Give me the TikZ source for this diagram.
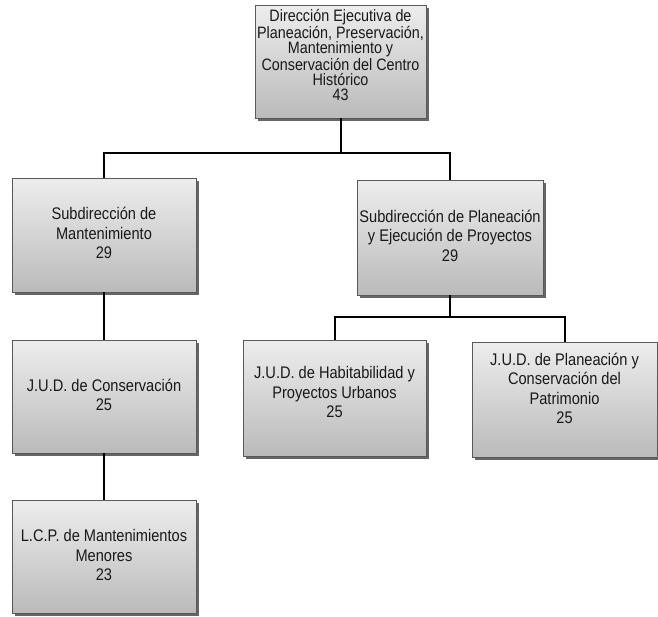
\documentclass[tikz,border=0pt]{standalone}
\usepackage{fontspec}
\setmainfont[FakeStretch=0.87]{Liberation Sans}
\usetikzlibrary{shadows}
\tikzset{
  box/.style={draw=black!65, line width=0.6pt, top color=black!7, bottom color=black!27,
    drop shadow={shadow xshift=2.5pt, shadow yshift=-2.5pt, fill=black!60, opacity=1},
    inner sep=0pt},
  txt/.style={align=center, inner sep=0pt, font=\fontsize{16.8}{19.5}\selectfont, text=black!90},
  toptxt/.style={align=center, inner sep=0pt, font=\fontsize{16.5}{15}\selectfont, text=black!90},
  conn/.style={line width=2pt, black}
}
\begin{document}
\begin{tikzpicture}[x=1pt,y=-1pt]
\useasboundingbox (0,0) rectangle (658,616);
% boxes
\node[box, minimum width=171pt, minimum height=113pt] (top) at (340.5,61.5) {};
\node[box, minimum width=184pt, minimum height=114pt] (subL) at (104,235) {};
\node[box, minimum width=186pt, minimum height=115pt] (subR) at (450,237.5) {};
\node[box, minimum width=184pt, minimum height=113pt] (judC) at (104,396.5) {};
\node[box, minimum width=184pt, minimum height=113pt] (lcp) at (104,556.5) {};
\node[box, minimum width=183pt, minimum height=116pt] (judH) at (334.5,398) {};
\node[box, minimum width=185pt, minimum height=115pt] (judP) at (564.5,399.5) {};
% texts
\node[toptxt] (tTop) at (340.5,55) {Dirección Ejecutiva de\\Planeación, Preservación,\\Mantenimiento y\\Conservación del Centro\\Histórico\\43};
\node[txt] (tSubL) at (104,233) {Subdirección de\\Mantenimiento\\29};
\node[txt] (tSubR) at (450,235.5) {Subdirección de Planeación\\y Ejecución de Proyectos\\29};
\node[txt] (tJudC) at (104,395) {J.U.D. de Conservación\\25};
\node[txt] (tLcp) at (104,555) {L.C.P. de Mantenimientos\\Menores\\23};
\node[txt] (tJudH) at (334.5,392) {J.U.D. de Habitabilidad y\\Proyectos Urbanos\\25};
\node[txt] (tJudP) at (564.5,388.5) {J.U.D. de Planeación y\\Conservación del\\Patrimonio\\25};
% connectors
\coordinate (j1) at (top.south |- 0,153);
\coordinate (j2) at (subR.south |- 0,317);
\draw[conn] (top.south) -- (j1);
\draw[conn] (subL.north) |- (j1) -| (subR.north);
\draw[conn] (subL.south) -- (judC.north);
\draw[conn] (judC.south) -- (lcp.north);
\draw[conn] (subR.south) -- (j2);
\draw[conn] (judH.north) |- (j2) -| (judP.north);
\end{tikzpicture}
\end{document}
